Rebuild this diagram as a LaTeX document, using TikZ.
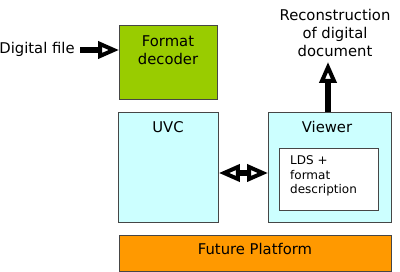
\documentclass[tikz,border=0pt]{standalone}
\usepackage{fontspec}
\setmainfont{DejaVu Sans}
\usetikzlibrary{arrows.meta}
\definecolor{decgreen}{RGB}{153,204,0}
\definecolor{uvccyan}{RGB}{204,255,255}
\definecolor{platorange}{RGB}{255,153,0}
\definecolor{edgegray}{RGB}{70,70,70}
\begin{document}
\begin{tikzpicture}[x=1pt,y=-1pt,
  blockbox/.style={draw=edgegray, line width=0.9pt},
  lbl/.style={font=\fontsize{14.8}{18.2}\selectfont, align=center, inner sep=0pt},
  small/.style={font=\fontsize{12}{14.6}\selectfont, align=left, inner sep=0pt},
  bigarrow/.style={line width=6.5pt, -{Triangle[open, length=21pt, width=17pt, line width=4pt]}},
  bigdarrow/.style={line width=6.5pt, {Triangle[open, length=21pt, width=17pt, line width=4pt]}-{Triangle[open, length=21pt, width=17pt, line width=4pt]}}
]
\useasboundingbox[fill=white] (0,0) rectangle (400,272);
% boxes
\node[blockbox, fill=decgreen, minimum width=98pt, minimum height=74pt, anchor=north west, inner sep=0pt] (dec) at (119,25) {};
\node[blockbox, fill=uvccyan, minimum width=100pt, minimum height=110pt, anchor=north west, inner sep=0pt] (uvc) at (118,112) {};
\node[blockbox, fill=uvccyan, minimum width=123pt, minimum height=110pt, anchor=north west, inner sep=0pt] (view) at (268,112) {};
\node[blockbox, fill=white, minimum width=99pt, minimum height=62pt, anchor=north west, inner sep=0pt] (lds) at (279,148) {};
\node[blockbox, fill=platorange, minimum width=272pt, minimum height=36pt, anchor=north west, inner sep=0pt] (plat) at (119,235) {};
% texts
\node[lbl] (dect) at (168,50) {Format\\decoder};
\node[lbl] (uvct) at (168,127) {UVC};
\node[lbl] (viewt) at (327,127) {Viewer};
\node[small, anchor=west] (ldst) at (290,176) {LDS +\\format\\description};
\node[lbl] (platt) at (255,249) {Future Platform};
\node[lbl] (file) at (37,49) {Digital file};
\node[lbl] (recon) at (335,33) {Reconstruction\\of digital\\document};
% arrows
\coordinate (fileend) at (80,50);
\draw[bigarrow] (fileend) -- (dec.west |- fileend);
\draw[bigarrow] (view.north -| 328,0) -- (328,62);
\draw[bigdarrow] (uvc.east |- 0,173) -- (view.west |- 0,173);
\end{tikzpicture}
\end{document}
